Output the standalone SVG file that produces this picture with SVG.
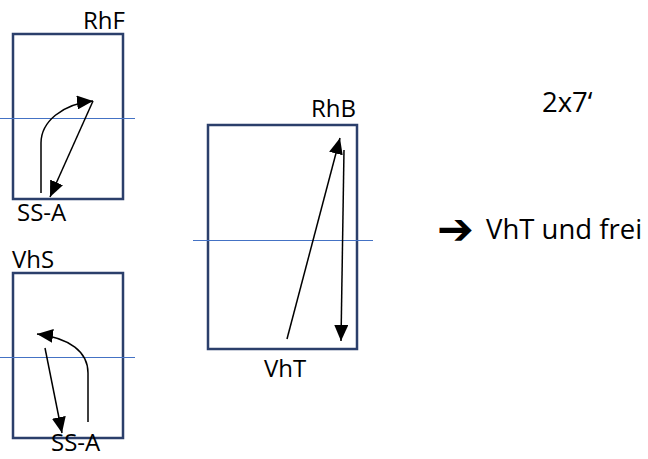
<svg xmlns="http://www.w3.org/2000/svg" width="648" height="459" viewBox="0 0 648 459">
<style>
.box{fill:none;stroke:#2b3f6b;stroke-width:2.5}
.mid{stroke:#4472c4;stroke-width:1}
.arr{fill:none;stroke:#000;stroke-width:1.5;marker-end:url(#ah)}
.lbl{font-family:"Open Sans","Liberation Sans",sans-serif;font-size:24px;fill:#000}
.big{font-family:"Open Sans","Liberation Sans",sans-serif;font-size:27.5px;fill:#000}
</style>
<defs>
<marker id="ah" markerUnits="userSpaceOnUse" markerWidth="17" markerHeight="14" viewBox="0 0 17 14" refX="16" refY="7" orient="auto">
<path d="M0,0 L16,7 L0,14 z" fill="#000"/>
</marker>
</defs>
<rect width="648" height="459" fill="#fff"/>
<g id="box-rhf">
<rect class="box" x="13" y="34" width="110" height="165"/>
<line class="mid" x1="0" y1="118.5" x2="135" y2="118.5"/>
<text class="lbl" x="83" y="29">RhF</text>
<text class="lbl" x="17" y="221">SS-A</text>
</g>
<g id="box-vhs">
<rect class="box" x="13" y="273" width="110" height="165"/>
<line class="mid" x1="0" y1="357.5" x2="135" y2="357.5"/>
<text class="lbl" x="12" y="268">VhS</text>
<text class="lbl" x="51" y="451">SS-A</text>
</g>
<g id="box-rhb">
<rect class="box" x="208" y="125" width="149" height="224"/>
<line class="mid" x1="193" y1="240.5" x2="373" y2="240.5"/>
<text class="lbl" x="311" y="117">RhB</text>
<text class="lbl" x="264" y="377">VhT</text>
</g>
<g id="notes">
<text class="big" x="542" y="112">2x7‘</text>
<text x="437" y="244" style="font-family:'DejaVu Sans',sans-serif;font-size:44px;font-weight:bold">➔</text>
<text class="big" x="486" y="239">VhT und frei</text>
</g>
<g id="connectors">
<path class="arr" d="M41,193 V143 C41,122 62,104 93,101"/>
<path class="arr" d="M93,101 L50,197"/>
<path class="arr" d="M88,422 V373 C88,352 70,338 37,334"/>
<path class="arr" d="M45,348 L62,433"/>
<path class="arr" d="M287,339 L340,138"/>
<path class="arr" d="M344,150 L341,341"/>
</g>
</svg>
